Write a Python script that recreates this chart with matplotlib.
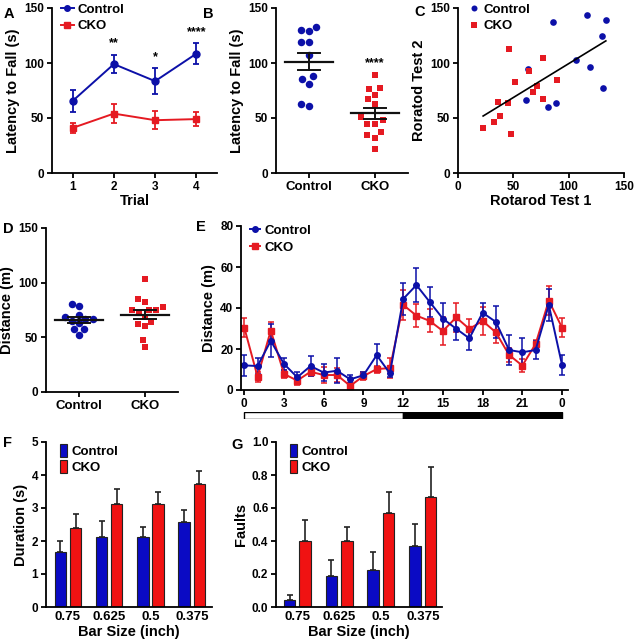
import numpy as np
import matplotlib
matplotlib.use("Agg")
import matplotlib.pyplot as plt
from matplotlib.lines import Line2D
from matplotlib.patches import Rectangle

plt.rcParams['font.family'] = ['Liberation Sans', 'DejaVu Sans']
plt.rcParams['font.weight'] = 'bold'
plt.rcParams['axes.labelweight'] = 'bold'
plt.rcParams['axes.linewidth'] = 1.3
plt.rcParams['xtick.major.width'] = 1.3
plt.rcParams['ytick.major.width'] = 1.3
plt.rcParams['xtick.major.size'] = 3.5
plt.rcParams['ytick.major.size'] = 3.5
plt.rcParams['xtick.labelsize'] = 8.5
plt.rcParams['ytick.labelsize'] = 8.5

BLUE = '#0c10a8'
RED = '#e51a22'
BAR_BLUE = '#0a0ac4'
BAR_RED = '#f01212'

# ---------------- data ----------------
trials = [1, 2, 3, 4]
a_ctrl_mean = [65.5, 99, 83.5, 108.5]
a_ctrl_sem = [10, 8, 11.5, 9.5]
a_cko_mean = [41, 54, 48, 49]
a_cko_sem = [4.5, 8.5, 8, 6.5]
a_stars = ['', '**', '*', '****']
a_star_y = [0, 118, 105, 128]

b_ctrl = [130, 129, 133, 119, 119, 107, 85, 88, 81, 61, 63]
b_cko = [89, 77, 76, 71, 67, 63, 51, 48, 45, 45, 37, 35, 32, 22]

c_ctrl_x = [85.5, 117, 133.6, 130, 106.7, 119, 130.6, 63.6, 61.5, 81, 89]
c_ctrl_y = [137.5, 143.6, 138.8, 124.8, 102.4, 96, 77.6, 94.8, 66.4, 60.3, 63.3]
c_cko_x = [45.8, 77, 64, 51.2, 89.4, 71.2, 67.6, 77, 35.8, 45.5, 37.9, 32.1, 22.7, 47.9]
c_cko_y = [113, 104.5, 92.7, 82.7, 84.5, 79, 74, 67, 64.5, 63.3, 51.8, 46.4, 41, 35.2]

d_ctrl = [80.8, 78.7, 70.7, 67, 65.2, 62.8, 66.5, 68.3, 57.6, 57.3, 52.4]
d_cko = [103.4, 85, 82, 78, 75, 75, 75, 72.6, 69, 64, 62, 60, 47.6, 41]

hours = list(range(25))
hour_labels = ['0', '3', '6', '9', '12', '15', '18', '21', '0']
e_ctrl = [12.0, 11.7, 24, 12.7, 6.2, 11.7, 8.5, 9.4, 5.2, 7.2, 17, 8.1, 44.4,
          51.2, 43, 34.8, 29.9, 25.2, 37.7, 33.2, 19.5, 18.4, 19.5, 41.5, 12.2]
e_ctrl_sem = [5, 4, 8, 3, 2.5, 5, 4, 6, 2, 1.6, 5.6, 2, 8, 8.5, 7.4, 7.5, 5.5,
              5.7, 4.6, 8, 7.3, 7, 4.6, 8, 5]
e_cko = [30.4, 6.5, 29, 7.8, 4.6, 8.9, 7.3, 7.3, 2, 6.8, 10.2, 10.7, 41.5,
         36.3, 33.7, 28.8, 35.4, 29.8, 33.7, 28.1, 17.1, 11.9, 22.4, 43.6, 30.4]
e_cko_sem = [4.6, 2.5, 4.3, 2, 2, 2, 3.7, 3.3, 1.3, 1.8, 1.7, 4.7, 7.3, 5.5,
             5.6, 7, 7, 5, 7, 5, 3.5, 3, 2, 7, 4.6]

bar_sizes = ['0.75', '0.625', '0.5', '0.375']
f_ctrl = [1.67, 2.13, 2.13, 2.57]
f_ctrl_err = [0.33, 0.49, 0.30, 0.37]
f_cko = [2.40, 3.11, 3.11, 3.72]
f_cko_err = [0.41, 0.46, 0.38, 0.39]

g_ctrl = [0.04, 0.187, 0.223, 0.371]
g_ctrl_err = [0.035, 0.097, 0.112, 0.13]
g_cko = [0.40, 0.40, 0.568, 0.669]
g_cko_err = [0.13, 0.085, 0.132, 0.177]

groups = ['Control', 'CKO']

# ---------------- helpers ----------------
W, H = 635, 640
fig = plt.figure(figsize=(6.35, 6.4), dpi=100)


def add_ax(l, r, t, b):
    return fig.add_axes([l / W, 1 - b / H, (r - l) / W, (b - t) / H])


def style(ax):
    for s in ['top', 'right']:
        ax.spines[s].set_visible(False)
    ax.tick_params(direction='out', pad=2)


def swarm(vals, xpx, ypx, d):
    """beeswarm offsets (data units) for values; xpx/ypx: px per data unit."""
    order = np.argsort(vals)
    placed = []
    offs = np.zeros(len(vals))
    for i in order:
        y = vals[i] * ypx
        cands = [0.0]
        for (px, py) in placed:
            dy = y - py
            if abs(dy) < d:
                dx = np.sqrt(d * d - dy * dy)
                cands += [px + dx, px - dx]
        cands = sorted(cands, key=lambda c: (abs(c), c))
        for c in cands:
            if all((c - px) ** 2 + (y - py) ** 2 >= d * d - 1e-6 for (px, py) in placed):
                break
        placed.append((c, y))
        offs[i] = c / xpx
    return offs


def dotplot(ax, ctrl, cko, xpx, ypx, spacing, ms=5.4):
    for k, (vals, col, mk) in enumerate([(ctrl, BLUE, 'o'), (cko, RED, 's')]):
        v = np.array(vals, float)
        off = swarm(v, xpx, ypx, spacing)
        ax.plot(k + off, v, mk, color=col, ms=ms if mk == 'o' else ms - 0.5,
                mec=col, mew=0, zorder=2, clip_on=False)
        m = v.mean()
        sem = v.std(ddof=1) / np.sqrt(len(v))
        ax.plot([k - 0.36, k + 0.36], [m, m], color='#111111', lw=1.6, zorder=3)
        ax.plot([k - 0.17, k + 0.17], [m + sem, m + sem], color='#111111', lw=1.4, zorder=3)
        ax.plot([k - 0.17, k + 0.17], [m - sem, m - sem], color='#111111', lw=1.4, zorder=3)
        ax.plot([k, k], [m - sem, m + sem], color='#111111', lw=1.4, zorder=3)
    ax.set_xlim(-0.5, 1.5)
    ax.set_xticks([0, 1])
    ax.set_xticklabels(groups, fontsize=9.5)


def letter(x, y, s):
    fig.text(x / W, 1 - y / H, s, fontsize=10.5, fontweight='bold', va='center', ha='left')


# ---------------- A ----------------
axA = add_ax(52, 217, 8, 173)
style(axA)
axA.errorbar(trials, a_ctrl_mean, yerr=a_ctrl_sem, color=BLUE, marker='o', ms=5,
             lw=1.4, capsize=2.5, elinewidth=1.3, capthick=1.3, label='Control')
axA.errorbar(trials, a_cko_mean, yerr=a_cko_sem, color=RED, marker='s', ms=5,
             lw=1.4, capsize=2.5, elinewidth=1.3, capthick=1.3, label='CKO')
for t, s, y in zip(trials, a_stars, a_star_y):
    if s:
        axA.text(t, y, s, ha='center', va='center', fontsize=9)
axA.set_xlim(0.5, 4.5)
axA.set_ylim(0, 150)
axA.set_xticks(trials)
axA.set_yticks([0, 50, 100, 150])
axA.set_xlabel('Trial', fontsize=10.5, labelpad=1)
axA.set_ylabel('Latency to Fall (s)', fontsize=10.5, labelpad=3)
hA = [Line2D([], [], color=BLUE, marker='o', ms=4, lw=1.4),
      Line2D([], [], color=RED, marker='s', ms=4, lw=1.4)]
axA.legend(hA, groups, loc='upper left', bbox_to_anchor=(0.02, 1.06), frameon=False,
           fontsize=9.5, handlelength=1.0, handletextpad=0.3, labelspacing=0.35,
           borderaxespad=0)

# ---------------- B ----------------
axB = add_ax(276, 408, 8, 173)
style(axB)
dotplot(axB, b_ctrl, b_cko, 66, 1.1, 8.5)
axB.text(1, 100, '****', ha='center', va='center', fontsize=9)
axB.set_ylim(0, 150)
axB.set_yticks([0, 50, 100, 150])
axB.set_ylabel('Latency to Fall (s)', fontsize=10.5, labelpad=3)

# ---------------- C ----------------
axC = add_ax(458, 624, 8, 173)
style(axC)
axC.plot(c_ctrl_x, c_ctrl_y, 'o', color=BLUE, ms=4.8, mew=0, label='Control')
axC.plot(c_cko_x, c_cko_y, 's', color=RED, ms=4.8, mew=0, label='CKO')
allx = np.array(c_ctrl_x + c_cko_x)
ally = np.array(c_ctrl_y + c_cko_y)
k, b0 = np.polyfit(allx, ally, 1)
xs = np.array([allx.min(), allx.max()])
axC.plot(xs, k * xs + b0, color='black', lw=1.2)
axC.set_xlim(0, 150)
axC.set_ylim(0, 150)
axC.set_xticks([0, 50, 100, 150])
axC.set_yticks([0, 50, 100, 150])
axC.set_xlabel('Rotarod Test 1', fontsize=10.5, labelpad=1)
axC.set_ylabel('Roratod Test 2', fontsize=10.5, labelpad=3)
axC.legend(loc='upper left', bbox_to_anchor=(0.04, 1.06), frameon=False, fontsize=9.5,
           handlelength=0.6, handletextpad=0.4, labelspacing=0.35, borderaxespad=0,
           markerscale=0.9)

# ---------------- D ----------------
axD = add_ax(46, 178, 228, 392)
style(axD)
dotplot(axD, d_ctrl, d_cko, 66, 1.093, 7.5)
axD.set_ylim(0, 150)
axD.set_yticks([0, 50, 100, 150])
axD.set_ylabel('Distance (m)', fontsize=10.5, labelpad=3)

# ---------------- E ----------------
axE = add_ax(241, 568, 226, 390)
style(axE)
axE.errorbar(hours, e_cko, yerr=e_cko_sem, color=RED, marker='s', ms=4, lw=1.4,
             capsize=2, elinewidth=1.1, capthick=1.1, label='CKO')
axE.errorbar(hours, e_ctrl, yerr=e_ctrl_sem, color=BLUE, marker='o', ms=4, lw=1.4,
             capsize=2, elinewidth=1.1, capthick=1.1, label='Control')
axE.set_xlim(-0.25, 24.45)
axE.set_ylim(0, 80)
axE.set_xticks(hours[::3])
axE.set_xticklabels(hour_labels)
axE.set_yticks([0, 20, 40, 60, 80])
axE.set_ylabel('Distance (m)', fontsize=10.5, labelpad=3)
hE = [Line2D([], [], color=BLUE, marker='o', ms=4, lw=1.4),
      Line2D([], [], color=RED, marker='s', ms=4, lw=1.4)]
axE.legend(hE, groups, loc='upper left', bbox_to_anchor=(0.01, 1.04), frameon=False,
           fontsize=9.5, handlelength=0.8, handletextpad=0.3, labelspacing=0.35,
           borderaxespad=0)

axLD = add_ax(241, 568, 412, 419)
axLD.set_xlim(axE.get_xlim())
axLD.set_ylim(0, 1)
axLD.axis('off')
axLD.add_patch(Rectangle((0, 0), 12, 1, facecolor='white', edgecolor='black', lw=1.0))
axLD.add_patch(Rectangle((12, 0), 12, 1, facecolor='black', edgecolor='black', lw=1.0))


# ---------------- F & G ----------------
def barplot(ax, ctrl, ctrl_err, cko, cko_err):
    x = np.arange(len(bar_sizes))
    bw = 0.275
    off = 0.185
    ax.bar(x - off, ctrl, bw, color=BAR_BLUE, edgecolor='#222222', lw=0.8,
           yerr=[np.zeros(len(ctrl)), ctrl_err],
           error_kw=dict(ecolor='#222222', elinewidth=1.2, capsize=2, capthick=1.2),
           label='Control')
    ax.bar(x + off, cko, bw, color=BAR_RED, edgecolor='#222222', lw=0.8,
           yerr=[np.zeros(len(cko)), cko_err],
           error_kw=dict(ecolor='#222222', elinewidth=1.2, capsize=2, capthick=1.2),
           label='CKO')
    ax.set_xticks(x)
    ax.set_xticklabels(bar_sizes, fontsize=9.5)
    ax.tick_params(axis='x', length=0, pad=3)
    ax.set_xlabel('Bar Size (inch)', fontsize=10.5, labelpad=1)
    ax.legend(loc='upper left', bbox_to_anchor=(0.05, 1.02), frameon=False,
              fontsize=9.5, handlelength=0.6, handleheight=1.1, handletextpad=0.3,
              labelspacing=0.2, borderaxespad=0)


axF = add_ax(46, 212, 442, 607)
style(axF)
barplot(axF, f_ctrl, f_ctrl_err, f_cko, f_cko_err)
axF.set_xlim(-0.53, 3.49)
axF.set_ylim(0, 5)
axF.set_yticks([0, 1, 2, 3, 4, 5])
axF.set_ylabel('Duration (s)', fontsize=10.5, labelpad=3)

axG = add_ax(276, 442, 442, 607)
style(axG)
barplot(axG, g_ctrl, g_ctrl_err, g_cko, g_cko_err)
axG.set_xlim(-0.51, 3.46)
axG.set_ylim(0, 1.0)
axG.set_yticks([0, 0.2, 0.4, 0.6, 0.8, 1.0])
axG.set_yticklabels(['0.0', '0.2', '0.4', '0.6', '0.8', '1.0'])
axG.set_ylabel('Faults', fontsize=10.5, labelpad=3)

# panel letters
letter(4, 14, 'A')
letter(203, 14, 'B')
letter(414, 12, 'C')
letter(3, 229, 'D')
letter(196, 227, 'E')
letter(3, 443, 'F')
letter(231, 445, 'G')

fig.savefig('out.png', dpi=100)
